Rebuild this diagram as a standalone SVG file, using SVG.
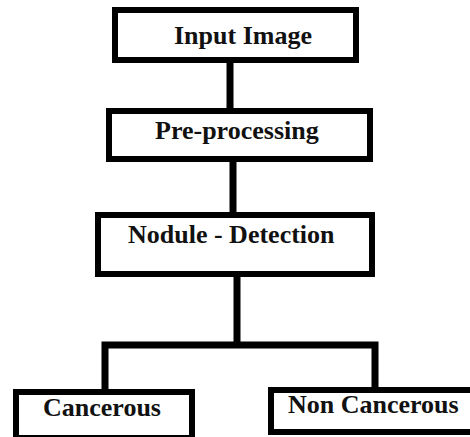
<svg xmlns="http://www.w3.org/2000/svg" width="470" height="437" viewBox="0 0 470 437">
<style>
.box{fill:#fff;stroke:#000;stroke-width:6}
.lbl{font-family:"Liberation Serif","Times New Roman",serif;font-weight:bold;font-size:26px;fill:#111}
.conn{fill:none;stroke:#000;stroke-width:7;stroke-linejoin:miter}
</style>
<rect width="470" height="437" fill="#fff"/>
<g id="connectors">
<line class="conn" x1="230" y1="62" x2="230" y2="110"/>
<line class="conn" x1="233" y1="160" x2="233" y2="214"/>
<line class="conn" x1="237" y1="275" x2="237" y2="345"/>
<path class="conn" d="M105,391 V345 H375 V389"/>
</g>
<g id="input-image">
<rect class="box" x="115" y="10" width="241" height="50"/>
<text class="lbl" x="174" y="44">Input Image</text>
</g>
<g id="pre-processing">
<rect class="box" x="109" y="111" width="261" height="48"/>
<text class="lbl" x="155" y="139">Pre-processing</text>
</g>
<g id="nodule-detection">
<rect class="box" x="98" y="215" width="274" height="59"/>
<text class="lbl" x="128" y="243">Nodule - Detection</text>
</g>
<g id="cancerous">
<rect class="box" x="16" y="392" width="176" height="46"/>
<text class="lbl" x="43" y="416">Cancerous</text>
</g>
<g id="non-cancerous">
<rect class="box" x="271" y="390" width="210" height="42"/>
<text class="lbl" x="288" y="413">Non Cancerous</text>
</g>
</svg>
